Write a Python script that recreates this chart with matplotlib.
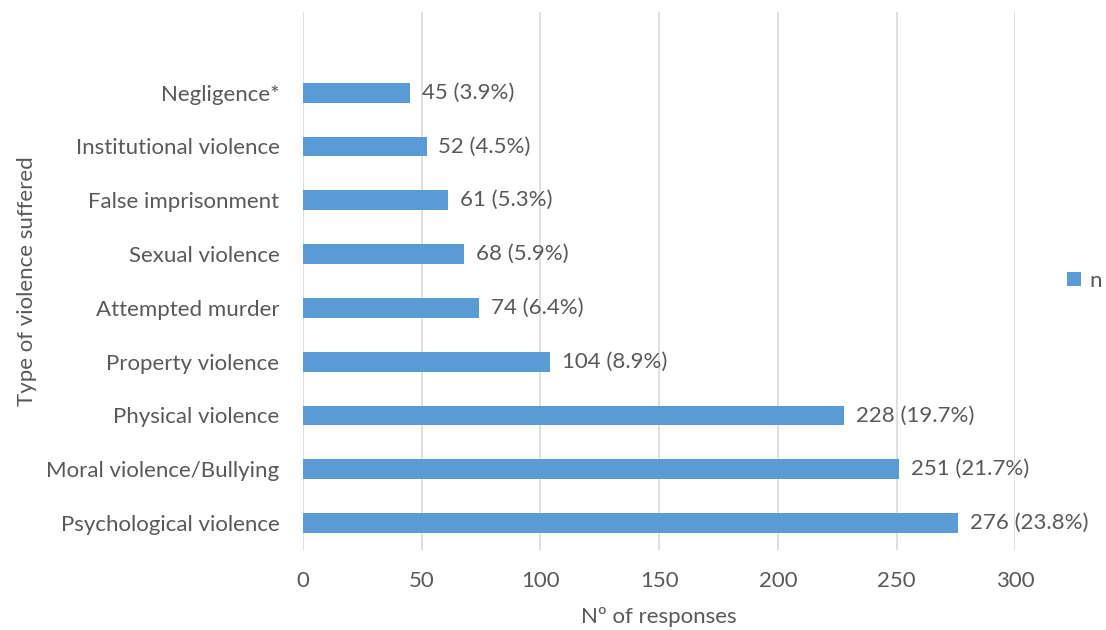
import matplotlib.pyplot as plt

categories = ['Psychological violence', 'Moral violence/Bullying', 'Physical violence',
              'Property violence', 'Attempted murder', 'Sexual violence',
              'False imprisonment', 'Institutional violence', 'Negligence*']
counts = [276, 251, 228, 104, 74, 68, 61, 52, 45]
percents = [23.8, 21.7, 19.7, 8.9, 6.4, 5.9, 5.3, 4.5, 3.9]
x_ticks = [0, 50, 100, 150, 200, 250, 300]

text_color = '#595959'
bar_color = '#5B9BD5'

plt.rcParams['font.family'] = ['Lato', 'DejaVu Sans']

fig = plt.figure(figsize=(11.06, 6.3), dpi=100)
ax = fig.add_axes([0.274, 0.127, 0.644, 0.854])

pos = list(range(len(categories)))
ax.barh(pos, counts, height=0.37, color=bar_color, label='n', zorder=2)

for p, c, pc in zip(pos, counts, percents):
    ax.text(c + 5, p, f'{c} ({pc}%)', va='center', ha='left',
            fontsize=16, color=text_color)

ax.set_xlim(0, 300)
ax.set_ylim(-0.5, 9.5)
ax.set_xticks(x_ticks)
ax.set_yticks(pos)
ax.set_yticklabels(categories)
ax.tick_params(axis='both', length=0, labelsize=16, colors=text_color)
ax.tick_params(axis='x', pad=15)
ax.tick_params(axis='y', pad=17)
ax.grid(axis='x', color='#D9D9D9', linewidth=1.2, zorder=0)
for s in ax.spines.values():
    s.set_visible(False)

ax.set_xlabel('Nº of responses', fontsize=16, color=text_color, labelpad=12)
ax.set_ylabel('Type of violence suffered', fontsize=16, color=text_color, labelpad=7)

ax.legend(loc='center left', bbox_to_anchor=(1.045, 0.5), frameon=False,
          fontsize=16, labelcolor=text_color, handlelength=0.6, handleheight=0.6,
          handletextpad=0.4)

fig.savefig('out.png', dpi=100, facecolor='white')
